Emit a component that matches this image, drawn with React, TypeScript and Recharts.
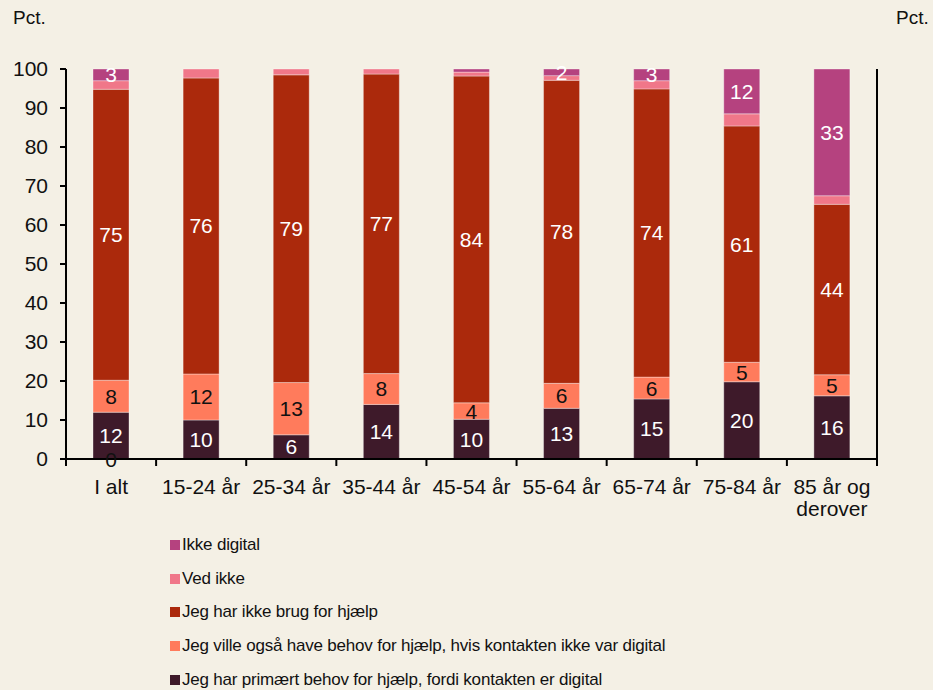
import { BarChart, Bar, XAxis, YAxis, LabelList } from 'recharts'

const categories = ['I alt', '15-24 år', '25-34 år', '35-44 år', '45-54 år', '55-64 år', '65-74 år', '75-84 år', '85 år og derover']
const uoplyst = [0, null, null, null, null, null, null, null, null]
const primaert = [12, 10, 6.2, 14, 10.2, 13, 15.4, 19.8, 16.2]
const ogsaa = [8.2, 11.8, 13.4, 7.9, 4.2, 6.4, 5.6, 5, 5.4]
const ikkeBrug = [74.6, 75.9, 78.9, 76.8, 83.8, 77.7, 73.9, 60.6, 43.7]
const vedIkke = [2.2, 2.3, 1.5, 1.3, 1, 1.2, 2.1, 3.1, 2.2]
const ikkeDigital = [3, 0, 0, 0, 0.8, 1.7, 3, 11.5, 32.5]
const yTicks = [0, 10, 20, 30, 40, 50, 60, 70, 80, 90, 100]

const BG = '#f4f0e5'
const FONT = '"Liberation Sans", Arial, sans-serif'

const series = [
  { key: 'ikkeDigital', name: 'Ikke digital', color: '#b5427f', label: '#ffffff' },
  { key: 'vedIkke', name: 'Ved ikke', color: '#f07789', label: null },
  { key: 'ikkeBrug', name: 'Jeg har ikke brug for hjælp', color: '#ab290c', label: '#ffffff' },
  { key: 'ogsaa', name: 'Jeg ville også have behov for hjælp, hvis kontakten ikke var digital', color: '#ff7b5c', label: '#111111' },
  { key: 'primaert', name: 'Jeg har primært behov for hjælp, fordi kontakten er digital', color: '#3e1a2a', label: '#ffffff' }
]

const data = categories.map((c, i) => ({
  cat: c,
  primaert: primaert[i],
  ogsaa: ogsaa[i],
  ikkeBrug: ikkeBrug[i],
  vedIkke: vedIkke[i],
  ikkeDigital: ikkeDigital[i]
}))

const BAND = 811 / 9

function makeLabel(color: string) {
  return (props: any) => {
    const { x, y, width, height, value } = props
    if (value === null || value === undefined || value < 1.5) return null
    return (
      <text
        x={x + width / 2}
        y={y + height / 2}
        fill={color}
        fontSize={21}
        fontFamily={FONT}
        textAnchor="middle"
        dominantBaseline="central"
      >
        {Math.round(value)}
      </text>
    )
  }
}

// the unanswered share sits at the foot of the bar
function BaseLabel(props: any) {
  const { x, y, width, height, index } = props
  const v = uoplyst[index]
  if (v === null || v === undefined) return null
  return (
    <text
      x={x + width / 2}
      y={y + height}
      fill="#111"
      fontSize={21}
      fontFamily={FONT}
      textAnchor="middle"
      dominantBaseline="central"
    >
      {v}
    </text>
  )
}

function CategoryTick(props: any) {
  const { x, y, payload, index } = props
  const words = String(payload.value)
  const lines = words === '85 år og derover' ? ['85 år og', 'derover'] : [words]
  return (
    <g>
      <line x1={x - BAND / 2} y1={y} x2={x - BAND / 2} y2={y + 7} stroke="#000" strokeWidth={2} />
      {index === categories.length - 1 && (
        <line x1={x + BAND / 2} y1={y} x2={x + BAND / 2} y2={y + 7} stroke="#000" strokeWidth={2} />
      )}
      {lines.map((l, i) => (
        <text key={i} x={x} y={y + 35 + i * 22} textAnchor="middle" fontSize={21} fontFamily={FONT} fill="#111">
          {l}
        </text>
      ))}
    </g>
  )
}

export default function App() {
  return (
    <div style={{ position: 'absolute', left: 0, top: 0, width: 933, height: 690, background: BG, fontFamily: FONT }}>
      <div style={{ position: 'absolute', left: 13, top: 7, fontSize: 19, color: '#111' }}>Pct.</div>
      <div style={{ position: 'absolute', left: 896, top: 7, fontSize: 19, color: '#111' }}>Pct.</div>
      <BarChart
        width={933}
        height={690}
        data={data}
        margin={{ top: 69, right: 0, bottom: 171, left: 0 }}
        barSize={36}
      >
        <XAxis
          dataKey="cat"
          height={60}
          tickSize={0}
          tickMargin={0}
          tickLine={false}
          axisLine={{ stroke: '#000', strokeWidth: 2 }}
          tick={<CategoryTick />}
          interval={0}
        />
        <YAxis
          yAxisId="left"
          orientation="left"
          width={66}
          domain={[0, 100]}
          ticks={yTicks}
          tickSize={6}
          tickMargin={12}
          axisLine={{ stroke: '#000', strokeWidth: 2 }}
          tickLine={{ stroke: '#000', strokeWidth: 2 }}
          tick={{ fill: '#111', fontSize: 21, fontFamily: FONT }}
        />
        <YAxis
          yAxisId="right"
          orientation="right"
          width={56}
          domain={[0, 100]}
          ticks={yTicks}
          tickSize={6}
          tickMargin={12}
          axisLine={{ stroke: '#000', strokeWidth: 2 }}
          tickLine={{ stroke: '#000', strokeWidth: 2 }}
          tick={{ fill: '#111', fontSize: 21, fontFamily: FONT, textAnchor: 'start' }}
        />
        {[...series].reverse().map((s) => (
          <Bar
            key={s.key}
            dataKey={s.key}
            name={s.name}
            stackId="a"
            yAxisId="left"
            fill={s.color}
            stroke="#ffffff"
            strokeOpacity={0.35}
            strokeWidth={1}
            isAnimationActive={false}
          >
            {s.label && <LabelList dataKey={s.key} content={makeLabel(s.label)} />}
            {s.key === 'primaert' && <LabelList dataKey={s.key} content={<BaseLabel />} />}
          </Bar>
        ))}
      </BarChart>
      <div style={{ position: 'absolute', left: 170, top: 528 }}>
        {series.map((s) => (
          <div
            key={s.key}
            style={{ display: 'flex', alignItems: 'center', height: 33.8, fontSize: 17, letterSpacing: -0.2, color: '#111' }}
          >
            <span style={{ display: 'inline-block', width: 10, height: 10, background: s.color, marginRight: 2 }} />
            <span>{s.name}</span>
          </div>
        ))}
      </div>
    </div>
  )
}
